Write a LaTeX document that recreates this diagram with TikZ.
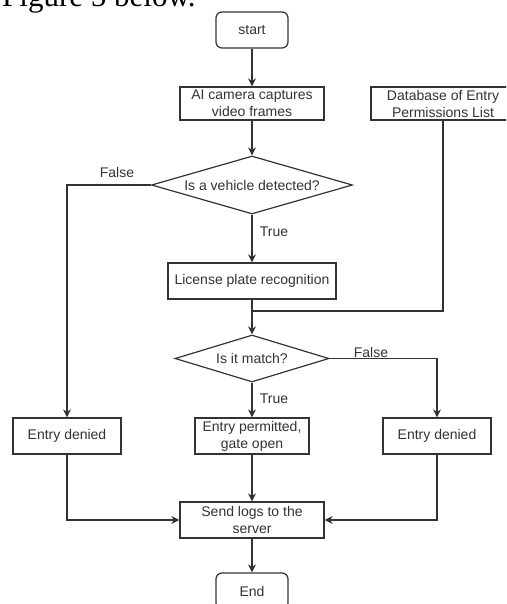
\documentclass[tikz,border=0pt]{standalone}
\usepackage{fontspec}
\setmainfont{Liberation Sans}
\newfontfamily\figserif{Liberation Serif}
\usetikzlibrary{shapes.geometric,arrows.meta}
\definecolor{ln}{HTML}{333333}
\tikzset{
  box/.style={draw=ln, line width=1.2pt, fill=white, text=ln, align=center, inner sep=1pt,
    font=\fontsize{14}{17}\selectfont},
  term/.style={box, rounded corners=6pt},
  dec/.style={draw=ln, line width=1.2pt, fill=white, text=ln, shape=diamond, inner sep=0pt,
    font=\fontsize{14}{17}\selectfont},
  conn/.style={draw=ln, line width=1.2pt},
  arr/.style={conn, -{Stealth[length=8pt,width=8pt,inset=2.5pt]}},
  lbl/.style={text=ln, font=\fontsize{14}{17}\selectfont, inner sep=0pt}
}
\begin{document}
\begin{tikzpicture}[x=1pt,y=-1pt]
\useasboundingbox (0,0) rectangle (506,604);
\clip (0,0) rectangle (506,604);
\node[anchor=base west, inner sep=0pt, font=\figserif\fontsize{31}{34}\selectfont] (fig) at (2,7) {Figure 5 below.};
\node[term, minimum width=72pt, minimum height=36pt] (start) at (252,30) {start};
\node[box, minimum width=144pt, minimum height=33pt] (cam) at (252,103.5) {AI camera captures\\video frames};
\node[box, minimum width=144pt, minimum height=33pt] (db) at (443,103.5) {Database of Entry\\Permissions List};
\node[dec, minimum width=201pt, minimum height=58pt, aspect=3.46] (d1) at (252,185) {Is a vehicle detected?};
\node[box, minimum width=168pt, minimum height=36pt] (lpr) at (252,281) {License plate recognition};
\coordinate (merge) at (252,311);
\node[dec, minimum width=154pt, minimum height=47pt, aspect=3.3] (d2) at (252,358.5) {Is it match?};
\node[box, minimum width=108pt, minimum height=36pt] (den1) at (67,436) {Entry denied};
\node[box, minimum width=114pt, minimum height=36pt] (perm) at (252,436) {Entry permitted,\\gate open};
\node[box, minimum width=108pt, minimum height=36pt] (den2) at (437,436) {Entry denied};
\node[box, minimum width=144pt, minimum height=36pt] (logs) at (252,520) {Send logs to the\\server};
\node[term, minimum width=72pt, minimum height=36pt] (end) at (252,591) {End};

\draw[arr] (start) -- (cam);
\draw[arr] (cam) -- (d1);
\draw[arr] (d1.west) -| (den1.north);
\node[lbl] (f1) at (117,172) {False};
\draw[arr] (d1.south) -- (lpr.north);
\node[lbl] (t1) at (274,232) {True};
\draw[conn] (lpr.south) -- (merge);
\draw[conn] (db.south) |- (merge);
\draw[arr] (merge) -- (d2.north);
\draw[arr] (d2.east) -| (den2.north);
\node[lbl] (f2) at (371,352) {False};
\draw[arr] (d2.south) -- (perm.north);
\node[lbl] (t2) at (274,399) {True};
\draw[arr] (den1.south) |- (logs.west);
\draw[arr] (den2.south) |- (logs.east);
\draw[arr] (perm.south) -- (logs.north);
\draw[arr] (logs.south) -- (end.north);
\end{tikzpicture}
\end{document}
